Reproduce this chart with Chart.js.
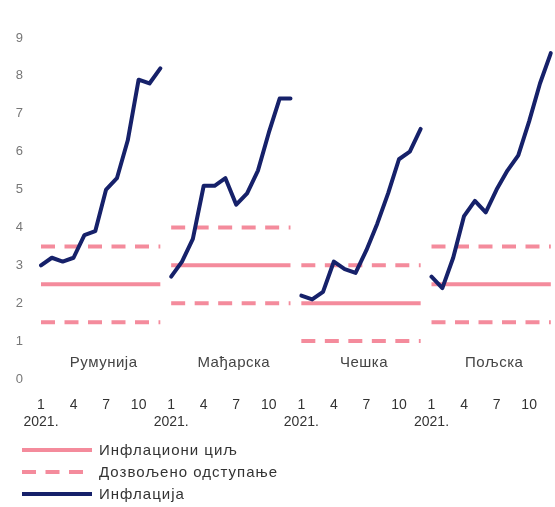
<!DOCTYPE html>
<html>
<head>
<meta charset="utf-8">
<script src="https://cdn.jsdelivr.net/npm/chart.js@4.4.1/dist/chart.umd.min.js"></script>
<style>
  html, body { margin: 0; padding: 0; background: #ffffff; }
  #wrap { width: 555px; height: 507px; position: relative; }
</style>
</head>
<body>
<div id="wrap"><canvas id="chart"></canvas></div>
<script>
// Countries shown side by side, 12 months of 2021 each
const countries = ['Румунија', 'Мађарска', 'Чешка', 'Пољска'];
const months = [1, 2, 3, 4, 5, 6, 7, 8, 9, 10, 11, 12];
const labeledMonths = [1, 4, 7, 10];
const yearLabel = '2021.';

// Year-on-year inflation, %
const inflationRomania = [3.0, 3.2, 3.1, 3.2, 3.8, 3.9, 5.0, 5.3, 6.3, 7.9, 7.8, 8.2];
const inflationHungary = [2.7, 3.1, 3.7, 5.1, 5.1, 5.3, 4.6, 4.9, 5.5, 6.5, 7.4, 7.4];
const inflationCzechia = [2.2, 2.1, 2.3, 3.1, 2.9, 2.8, 3.4, 4.1, 4.9, 5.8, 6.0, 6.6];
const inflationPoland  = [2.7, 2.4, 3.2, 4.3, 4.7, 4.4, 5.0, 5.5, 5.9, 6.8, 7.8, 8.6];

// Inflation targets and tolerance bands (± percentage points)
const inflationTargets = [2.5, 3.0, 2.0, 2.5];
const toleranceBands = [1.0, 1.0, 1.0, 1.0];

const yMin = 0;
const yMax = 9;

const legendLabels = ['Инфлациони циљ', 'Дозвољено одступање', 'Инфлација'];

const PINK = '#f48b9c';
const NAVY = '#16216a';
const DASH = [14, 9.5];

const inflationSeries = [inflationRomania, inflationHungary, inflationCzechia, inflationPoland];
const totalPoints = countries.length * months.length;

const categoryLabels = [];
countries.forEach(() => months.forEach(m => categoryLabels.push(String(m))));

// place a panel's 12 values into the shared category axis, nulls elsewhere
function panelData(panel, values) {
  const arr = new Array(totalPoints).fill(null);
  values.forEach((v, i) => { arr[panel * months.length + i] = v; });
  return arr;
}

const datasets = [];
countries.forEach((name, p) => {
  const t = inflationTargets[p];
  const b = toleranceBands[p];
  datasets.push({
    label: 'target-' + name,
    data: panelData(p, months.map(() => t)),
    borderColor: PINK, borderWidth: 4, pointRadius: 0, order: 3
  });
  datasets.push({
    label: 'upper-' + name,
    data: panelData(p, months.map(() => t + b)),
    borderColor: PINK, borderWidth: 4, borderDash: DASH, pointRadius: 0, order: 3
  });
  datasets.push({
    label: 'lower-' + name,
    data: panelData(p, months.map(() => t - b)),
    borderColor: PINK, borderWidth: 4, borderDash: DASH, pointRadius: 0, order: 3
  });
  datasets.push({
    label: 'inflation-' + name,
    data: panelData(p, inflationSeries[p]),
    borderColor: NAVY, borderWidth: 4, pointRadius: 0,
    borderJoinStyle: 'round', borderCapStyle: 'round', order: 1
  });
});

// Country names inside each panel and the three-row legend underneath
const panelAnnotations = {
  id: 'panelAnnotations',
  afterDraw(chart) {
    const { ctx, scales, chartArea } = chart;
    const x = scales.x, y = scales.y;
    ctx.save();
    ctx.font = '15px "Liberation Sans", Arial, sans-serif';
    ctx.letterSpacing = '0.5px';
    ctx.fillStyle = '#444444';
    ctx.textAlign = 'center';
    ctx.textBaseline = 'middle';
    countries.forEach((name, p) => {
      const first = x.getPixelForValue(p * months.length);
      const last = x.getPixelForValue(p * months.length + months.length - 1);
      ctx.fillText(name, (first + last) / 2 + 3, y.getPixelForValue(0.42));
    });

    const items = [
      { text: legendLabels[0], color: PINK, dash: [] },
      { text: legendLabels[1], color: PINK, dash: DASH },
      { text: legendLabels[2], color: NAVY, dash: [] }
    ];
    const x0 = 22, x1 = 92, textX = 99;
    ctx.letterSpacing = '1px';
    items.forEach((it, i) => {
      const rowY = chartArea.bottom + 71 + i * 22;
      ctx.beginPath();
      ctx.setLineDash(it.dash);
      ctx.lineWidth = 4;
      ctx.strokeStyle = it.color;
      ctx.moveTo(x0, rowY);
      ctx.lineTo(x1, rowY);
      ctx.stroke();
      ctx.setLineDash([]);
      ctx.fillStyle = '#333333';
      ctx.textAlign = 'left';
      ctx.fillText(it.text, textX, rowY + 1);
    });
    ctx.restore();
  }
};

new Chart(document.getElementById('chart'), {
  type: 'line',
  data: { labels: categoryLabels, datasets },
  plugins: [panelAnnotations],
  options: {
    responsive: true,
    maintainAspectRatio: false,
    animation: false,
    spanGaps: false,
    layout: { padding: { top: 38, left: 16, right: 2, bottom: 78 } },
    plugins: { legend: { display: false }, tooltip: { enabled: false } },
    elements: { line: { tension: 0 } },
    scales: {
      x: {
        type: 'category',
        offset: false,
        grid: { display: false, drawTicks: false },
        border: { display: false },
        afterFit: (scale) => { scale.height = 50; },
        ticks: {
          autoSkip: false,
          maxRotation: 0,
          minRotation: 0,
          padding: 18,
          color: '#333333',
          font: { family: '"Liberation Sans", Arial, sans-serif', size: 14 },
          callback: (value, index) => {
            const m = months[index % months.length];
            if (m === 1) return [String(m), yearLabel];
            if (labeledMonths.includes(m)) return String(m);
            return null;
          }
        }
      },
      y: {
        min: yMin,
        max: yMax,
        grid: { display: false, drawTicks: false },
        border: { display: false },
        afterFit: (scale) => { scale.width = 25; },
        ticks: {
          stepSize: 1,
          padding: 18,
          color: '#777777',
          font: { family: '"Liberation Sans", Arial, sans-serif', size: 13 }
        }
      }
    }
  }
});
</script>
</body>
</html>
